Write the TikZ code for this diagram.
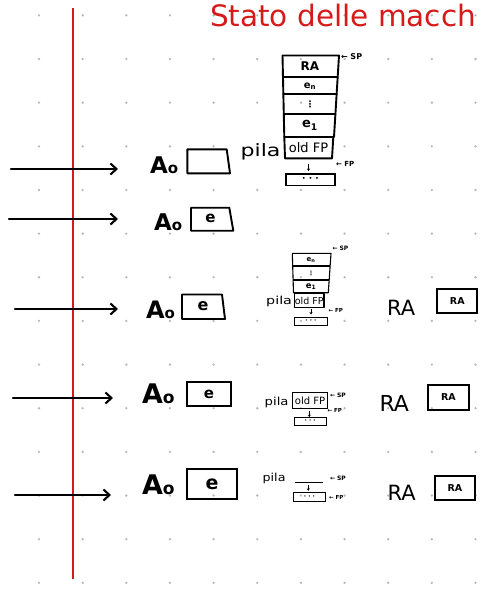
\documentclass[tikz,border=0pt]{standalone}
\usepackage{fontspec}
\usepackage{graphicx}
\setmainfont{DejaVu Sans}
\usetikzlibrary{arrows.meta}
\definecolor{penred}{HTML}{D61A1A}
\definecolor{griddot}{HTML}{B8B8B8}
\newcommand{\fs}[1]{\fontsize{#1}{#1}\selectfont}
\newcommand{\AoTxt}[2]{{\fs{#1}A}{\fs{#2}o}}
\tikzset{
  ink/.style={line width=1.9pt, line join=round, line cap=round},
  fineink/.style={line width=1.1pt, line join=round},
  bigarrow/.style={line width=2.1pt, line cap=round, -{Straight Barb[length=6pt,width=11pt,line width=2.1pt]}},
  smallarrow/.style={line width=0.8pt, -{Stealth[length=2.4pt,width=3pt]}},
  lbl/.style={inner sep=0pt, outer sep=0pt},
  ptr/.style={lbl, font=\bfseries\fs{#1}},
  aolbl/.style={lbl, anchor=base west, font=\bfseries},
}
\begin{document}
\begin{tikzpicture}[x=1pt,y=-1pt]
\useasboundingbox (0,0) rectangle (495,589);
% dotted paper
\foreach \i in {0,...,10} \foreach \j in {0,...,13}
  \fill[griddot] (39+43.65*\i, 15.35+43.65*\j) circle (1.3);
% margin line
\coordinate (rtop) at (73.3,8);
\coordinate (rbot) at (73.3,579);
\draw[penred, line width=2pt] (rtop) -- (rbot);
% title
\node[lbl, anchor=base west, text=penred, font=\fs{29.5}] (title) at (210,27) {Stato delle macch};

% ---------- row 1 ----------
\coordinate (s1) at (11,169); \coordinate (t1) at (118,169);
\draw[bigarrow] (s1) -- (t1);
\node[aolbl] (ao1) at (150,173) {\AoTxt{23}{15}};
\draw[ink] (187.3,149.3) -- (226.7,149.3) -- (230,173.3) -- (187.3,173.3) -- cycle;
\node[lbl, anchor=base east, font=\fs{17}] (pila1) at (280.5,156) {\scalebox{1.3}[1]{pila}};
% big stack
\draw[ink] (282.5,55.5) -- (339,55.5) -- (334,137) -- (284.3,137) -- cycle;
\draw[ink] (283,76.7) -- (337.7,76.7);
\draw[ink] (283.4,94) -- (336.6,94);
\draw[ink] (283.9,114) -- (335.4,114);
\draw[ink] (284.3,137) -- (333.3,137) -- (332,158.3) -- (285,158.3) -- cycle;
\node[lbl, font=\bfseries\fs{12}] (ra1) at (310,66.5) {RA};
\node[lbl, font=\bfseries\fs{10}] (en1) at (310,86) {e\textsubscript{n}};
\node[lbl, font=\bfseries\fs{9}] (vd1) at (310,104) {⋮};
\node[lbl, font=\bfseries\fs{13}] (e11) at (310,125.5) {e\textsubscript{1}};
\node[lbl, font=\fs{13}] (ofp1) at (308.5,148) {old FP};
\node[draw, line width=1.6pt, minimum width=49pt, minimum height=11.7pt, inner sep=0pt, font=\bfseries\fs{9}] (dots1) at (310.5,179.8) {· · ·};
\draw[smallarrow] (308.5,163.5) -- (308.5,171);
\node[ptr=8, anchor=west] (sp1) at (341,56.5) {← SP};
\node[ptr=7, anchor=west] (fp1) at (336,164) {← FP};

% ---------- row 2 ----------
\coordinate (s2) at (9,219); \coordinate (t2) at (118,219);
\draw[bigarrow] (s2) -- (t2);
\node[aolbl] (ao2) at (154,230) {\AoTxt{23}{15}};
\draw[ink] (191,207.7) -- (229.3,207.7) -- (233.3,230.7) -- (191,230.7) -- cycle;
\node[lbl, font=\bfseries\fs{15}] (e2) at (210.5,218.5) {e};

% ---------- row 3 ----------
\coordinate (s3) at (15,309); \coordinate (t3) at (118,309);
\draw[bigarrow] (s3) -- (t3);
\node[aolbl] (ao3) at (146,318) {\AoTxt{24}{15}};
\draw[ink] (182,294.5) -- (222,294.5) -- (225,319) -- (182,319) -- cycle;
\node[lbl, font=\bfseries\fs{16}] (e3) at (203,306) {e};
\node[lbl, anchor=base east, font=\fs{11}] (pila3) at (292,304) {\scalebox{1.3}[1]{pila}};
\draw[fineink] (292.3,253.3) -- (331,253.3) -- (328.3,292.7) -- (293.5,292.7) -- cycle;
\draw[fineink] (292.7,266) -- (330.1,266);
\draw[fineink] (293.1,280) -- (329.2,280);
\draw[fineink] (294.3,293.3) -- (324,293.3) -- (324,307.7) -- (294.3,307.7) -- cycle;
\node[lbl, font=\bfseries\fs{7}] (en3) at (311,259.8) {e\textsubscript{n}};
\node[lbl, font=\bfseries\fs{6}] (vd3) at (311,273) {⋮};
\node[lbl, font=\bfseries\fs{8.5}] (e13) at (311,286.5) {e\textsubscript{1}};
\node[lbl, font=\fs{9.5}] (ofp3) at (309.2,300.5) {old FP};
\node[draw, line width=1.1pt, minimum width=33.4pt, minimum height=7.7pt, inner sep=0pt, font=\bfseries\fs{6}] (dots3) at (311,321.2) {· · ·};
\draw[smallarrow] (311,308.6) -- (311,314.5);
\node[ptr=6, anchor=west] (sp3) at (332.5,248.5) {← SP};
\node[ptr=5.5, anchor=west] (fp3) at (328.5,310.5) {← FP};
\node[lbl, anchor=base west, font=\fs{21}] (rab3) at (387,315.5) {RA};
\node[draw, line width=1.8pt, minimum width=40pt, minimum height=24.3pt, inner sep=0pt, font=\bfseries\fs{9.5}] (rabox3) at (457.3,301.2) {RA};

% ---------- row 4 ----------
\coordinate (s4) at (13,398); \coordinate (t4) at (113,398);
\draw[bigarrow] (s4) -- (t4);
\node[aolbl] (ao4) at (142,403.5) {\AoTxt{27}{17}};
\node[draw, line width=1.8pt, minimum width=43.4pt, minimum height=23.4pt, inner sep=0pt, font=\bfseries\fs{15}] (e4) at (209,394) {e};
\node[lbl, anchor=base east, font=\fs{11}] (pila4) at (288.5,405) {\scalebox{1.2}[1]{pila}};
\node[draw, line width=1.1pt, minimum width=35.4pt, minimum height=16pt, inner sep=0pt, font=\fs{10}] (ofp4) at (310,400.8) {old FP};
\draw[smallarrow] (309.3,411) -- (309.3,417);
\node[draw, line width=1.1pt, minimum width=31.7pt, minimum height=7.7pt, inner sep=0pt, font=\bfseries\fs{6}] (dots4) at (310.2,421.2) {· · ·};
\node[ptr=6, anchor=west] (sp4) at (330,395) {← SP};
\node[ptr=5.5, anchor=west] (fp4) at (327.7,410) {← FP};
\node[lbl, anchor=base west, font=\fs{22}] (rab4) at (379.5,411.5) {RA};
\node[draw, line width=1.8pt, minimum width=41pt, minimum height=25pt, inner sep=0pt, font=\bfseries\fs{9.5}] (rabox4) at (448.5,397.5) {RA};

% ---------- row 5 ----------
\coordinate (s5) at (15,495); \coordinate (t5) at (111,495);
\draw[bigarrow] (s5) -- (t5);
\node[aolbl] (ao5) at (142,494.5) {\AoTxt{27}{17}};
\node[draw, line width=1.8pt, minimum width=49.4pt, minimum height=30pt, inner sep=0pt, font=\bfseries\fs{19}] (e5) at (212,484.3) {e};
\node[lbl, anchor=base east, font=\fs{11}] (pila5) at (285.5,481.5) {\scalebox{1.15}[1]{pila}};
\coordinate (l5a) at (295,482.7); \coordinate (l5b) at (323.3,482.7);
\draw[fineink] (l5a) -- (l5b);
\draw[smallarrow] (308.3,485) -- (308.3,490.8);
\node[draw, line width=1.1pt, minimum width=32.4pt, minimum height=8.7pt, inner sep=0pt, font=\bfseries\fs{6}] (dots5) at (309.5,496.7) {· · ·};
\node[ptr=6, anchor=west] (sp5) at (330,478.3) {← SP};
\node[ptr=5.5, anchor=west] (fp5) at (329,497) {← FP};
\node[lbl, anchor=base west, font=\fs{21}] (rab5) at (387.5,500) {RA};
\node[draw, line width=1.8pt, minimum width=40pt, minimum height=24pt, inner sep=0pt, font=\bfseries\fs{9.5}] (rabox5) at (455,488) {RA};
\end{tikzpicture}
\end{document}
